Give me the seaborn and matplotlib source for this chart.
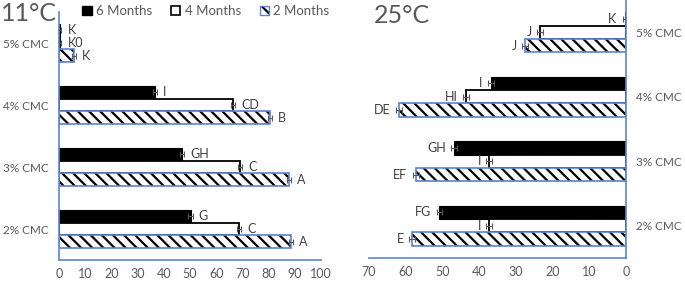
import matplotlib
matplotlib.use('Agg')
import matplotlib.pyplot as plt
from matplotlib.patches import Rectangle, Patch
from matplotlib.container import BarContainer
import pandas as pd
import seaborn as sns

# ===========================
# DATA
# ===========================
categories = ['5% CMC', '4% CMC', '3% CMC', '2% CMC']
periods = ['6 Months', '4 Months', '2 Months']

# 11 degC panel
c11_6m = [0.3, 36.6, 46.8, 50.2]
c11_4m = [0.3, 66.4, 69.2, 68.7]
c11_2m = [5.6, 80.4, 87.8, 88.5]
c11_err_6m = [0.6, 0.8, 0.8, 0.8]
c11_err_4m = [0.6, 0.8, 0.8, 0.8]
c11_err_2m = [0.8, 0.8, 0.8, 0.8]
c11_lab_6m = ['K', 'I', 'GH', 'G']
c11_lab_4m = ['K0', 'CD', 'C', 'C']
c11_lab_2m = ['K', 'B', 'A', 'A']

# 25 degC panel
c25_6m = [0.3, 36.8, 46.8, 50.8]
c25_4m = [23.4, 43.5, 37.2, 37.2]
c25_2m = [27.4, 61.9, 57.3, 58.2]
c25_err_6m = [0.6, 0.8, 0.8, 0.8]
c25_err_4m = [0.8, 0.8, 0.8, 0.8]
c25_err_2m = [0.8, 0.8, 0.8, 0.8]
c25_lab_6m = ['K', 'I', 'GH', 'FG']
c25_lab_4m = ['J', 'HI', 'I', 'I']
c25_lab_2m = ['J', 'DE', 'EF', 'E']

GREY = '#595959'
BLUE = '#5B84D1'
HATCH = '\\\\\\'

sns.set_style('white')
plt.rcParams['font.family'] = ['Lato', 'DejaVu Sans']
plt.rcParams['hatch.linewidth'] = 1.6


def long_frame(v6, v4, v2):
    rows = []
    for per, vals in zip(periods, [v6, v4, v2]):
        for cat, v in zip(categories, vals):
            rows.append({'cat': cat, 'period': per, 'value': v})
    return pd.DataFrame(rows)


def draw_panel(ax, values, errors, labels, right=False):
    df = long_frame(*values)
    sns.barplot(data=df, y='cat', x='value', hue='period', order=categories,
                hue_order=periods, orient='h', width=0.62, errorbar=None,
                legend=False, ax=ax)
    bar_conts = [c for c in ax.containers if isinstance(c, BarContainer)]
    for i, cont in enumerate(bar_conts):
        for p in cont.patches:
            if i == 0:
                p.set_facecolor('black')
                p.set_edgecolor('black')
                p.set_linewidth(0.8)
            elif i == 1:
                p.set_facecolor('white')
                p.set_edgecolor('black')
                p.set_linewidth(1.3)
            else:
                # hatch takes the edge colour, so outline separately in blue
                p.set_facecolor('white')
                p.set_edgecolor('black')
                p.set_linewidth(0)
                p.set_hatch(HATCH)
                ax.add_patch(Rectangle(p.get_xy(), p.get_width(), p.get_height(),
                                       fill=False, edgecolor=BLUE, linewidth=1.2,
                                       zorder=p.get_zorder() + 0.1))
        ys = [p.get_y() + p.get_height() / 2 for p in cont.patches]
        xs = [p.get_width() for p in cont.patches]
        ax.errorbar(xs, ys, xerr=errors[i], fmt='none', ecolor=GREY,
                    elinewidth=0.8, capsize=2.2, capthick=0.8, zorder=5)
        for x, y, lab in zip(xs, ys, labels[i]):
            ax.annotate(lab, (x, y), xytext=(-6 if right else 6, 0),
                        textcoords='offset points', va='center',
                        ha='right' if right else 'left', fontsize=9,
                        color='#404040')
    ax.set_xlabel('')
    ax.set_ylabel('')
    ax.tick_params(axis='both', length=0, labelsize=8.5, labelcolor=GREY)
    ax.tick_params(axis='x', labelsize=9, pad=6)
    ax.tick_params(axis='y', pad=7.5)
    for s in ax.spines.values():
        s.set_visible(False)
    ax.spines['bottom'].set_visible(True)
    ax.spines['bottom'].set_color(BLUE)
    ax.spines['bottom'].set_linewidth(1.2)
    side = 'right' if right else 'left'
    ax.spines[side].set_visible(True)
    ax.spines[side].set_color(BLUE)
    ax.spines[side].set_linewidth(1.2)
    ax.set_ylim(3.5, -0.5)


fig = plt.figure(figsize=(6.85, 2.82), dpi=100)
W, H = 685, 282
ax1 = fig.add_axes([59 / W, (H - 260) / H, (321 - 59) / W, 248 / H])
ax2 = fig.add_axes([369 / W, (H - 258) / H, (626 - 369) / W, 258 / H])

draw_panel(ax1, [c11_6m, c11_4m, c11_2m],
           [c11_err_6m, c11_err_4m, c11_err_2m],
           [c11_lab_6m, c11_lab_4m, c11_lab_2m])
ax1.set_xlim(0, 100)
ax1.set_xticks(range(0, 101, 10))

draw_panel(ax2, [c25_6m, c25_4m, c25_2m],
           [c25_err_6m, c25_err_4m, c25_err_2m],
           [c25_lab_6m, c25_lab_4m, c25_lab_2m], right=True)
ax2.set_xlim(70, 0)
ax2.set_xticks(range(0, 71, 10))
ax2.yaxis.tick_right()

fig.text(1 / W, 1 - 2 / H, '11°C', fontsize=18, color=GREY, ha='left', va='top')
fig.text(374 / W, 1 - 4 / H, '25°C', fontsize=18, color=GREY, ha='left', va='top')

handles = [Patch(facecolor='black', edgecolor='black'),
           Patch(facecolor='white', edgecolor='black', linewidth=1.2),
           (Patch(facecolor='white', edgecolor='black', hatch=HATCH, linewidth=0),
            Patch(fill=False, edgecolor=BLUE, linewidth=1.0))]
leg = fig.legend(handles, periods, loc='center', bbox_to_anchor=(206 / W, 1 - 11 / H),
                 ncol=3, frameon=False, fontsize=9.5, handlelength=0.7,
                 handleheight=0.7, handletextpad=0.35, columnspacing=1.4)
for t in leg.get_texts():
    t.set_color(GREY)

fig.savefig('out.png', dpi=100)
